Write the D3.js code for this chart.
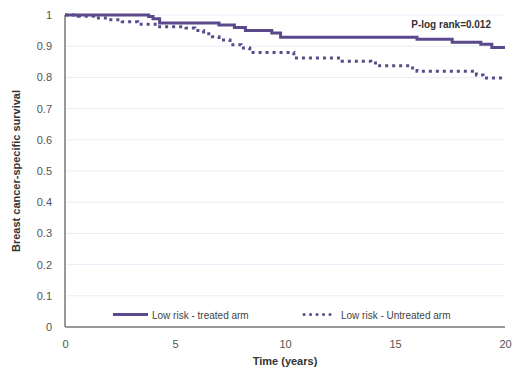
<!DOCTYPE html>
<html>
<head>
<meta charset="utf-8">
<script src="https://cdn.jsdelivr.net/npm/d3@7"></script>
<style>
  body { margin: 0; background: #fff; }
  svg text { font-family: Arial, "Liberation Sans", sans-serif; }
</style>
</head>
<body>
<div id="chart"></div>
<script>
'use strict';

// Kaplan-Meier steps
var treatedT = [0, 3.8, 4.0, 4.3, 7.0, 7.7, 8.2, 9.4, 9.8, 16.0, 17.6, 18.9, 19.4, 20];
var treatedS = [1, 0.995, 0.988, 0.974, 0.968, 0.96, 0.95, 0.942, 0.929, 0.922, 0.913, 0.906, 0.896, 0.896];

var untreatedT = [0, 0.6, 1.3, 2.0, 2.6, 3.3, 4.2, 5.5, 5.9, 6.3, 6.7, 7.0, 7.5, 8.0, 8.4, 10.4, 12.6, 13.9, 14.2, 15.8, 16.0, 18.7, 19.0, 20];
var untreatedS = [1, 0.996, 0.99, 0.985, 0.978, 0.97, 0.962, 0.958, 0.95, 0.94, 0.93, 0.92, 0.905, 0.894, 0.88, 0.862, 0.852, 0.846, 0.837, 0.83, 0.82, 0.808, 0.798, 0.798];

var xTicks = [0, 5, 10, 15, 20];
var yTicks = [0, 0.1, 0.2, 0.3, 0.4, 0.5, 0.6, 0.7, 0.8, 0.9, 1];
var seriesNames = ['Low risk - treated arm', 'Low risk - Untreated arm'];

var width = 515, height = 371;
var margin = { left: 65, right: 10, top: 15, bottom: 44 };
var purple = '#5a4a8c';

var svg = d3.select('#chart')
  .append('svg')
  .attr('width', width)
  .attr('height', height);

var x = d3.scaleLinear().domain([0, 20]).range([margin.left, width - margin.right]);
var y = d3.scaleLinear().domain([0, 1]).range([height - margin.bottom, margin.top]);

// grid
svg.selectAll('line.grid')
  .data(yTicks.slice(1))
  .enter()
  .append('line')
  .attr('class', 'grid')
  .attr('x1', x(0))
  .attr('x2', x(20))
  .attr('y1', function(d) { return y(d); })
  .attr('y2', function(d) { return y(d); })
  .attr('stroke', '#e8eef7')
  .attr('stroke-width', 1);

// axes
var yAxis = svg.append('g')
  .attr('transform', 'translate(' + (x(0) - 10) + ',0)')
  .call(d3.axisLeft(y).tickValues(yTicks).tickSize(0).tickFormat(function(d) { return d === 1 || d === 0 ? d : d3.format('.1f')(d); }));
yAxis.select('.domain').remove();
yAxis.selectAll('text').attr('font-size', '11px').attr('fill', '#555');

var xAxis = svg.append('g')
  .attr('transform', 'translate(0,' + (y(0) + 10) + ')')
  .call(d3.axisBottom(x).tickValues(xTicks).tickSize(0));
xAxis.select('.domain').remove();
xAxis.selectAll('text').attr('font-size', '11px').attr('fill', '#555');

svg.append('line')
  .attr('x1', x(0)).attr('x2', x(0))
  .attr('y1', y(1)).attr('y2', y(0))
  .attr('stroke', '#999').attr('stroke-width', 2);
svg.append('line')
  .attr('x1', x(0)).attr('x2', x(20))
  .attr('y1', y(0)).attr('y2', y(0))
  .attr('stroke', '#999').attr('stroke-width', 2);

// curves
var line = d3.line()
  .curve(d3.curveStepAfter)
  .x(function(d) { return x(d[0]); })
  .y(function(d) { return y(d[1]); });

svg.append('path')
  .datum(d3.zip(untreatedT, untreatedS))
  .attr('d', line)
  .attr('fill', 'none')
  .attr('stroke', purple)
  .attr('stroke-width', 3)
  .attr('stroke-dasharray', '3,4');

svg.append('path')
  .datum(d3.zip(treatedT, treatedS))
  .attr('d', line)
  .attr('fill', 'none')
  .attr('stroke', purple)
  .attr('stroke-width', 3);

// legend
var legY = y(0.04);
svg.append('line')
  .attr('x1', 113).attr('x2', 148)
  .attr('y1', legY).attr('y2', legY)
  .attr('stroke', purple).attr('stroke-width', 3);
svg.append('text')
  .attr('x', 152).attr('y', legY + 4)
  .attr('font-size', '10px').attr('fill', '#444')
  .text(seriesNames[0]);

svg.append('line')
  .attr('x1', 304).attr('x2', 336)
  .attr('y1', legY).attr('y2', legY)
  .attr('stroke', purple).attr('stroke-width', 3)
  .attr('stroke-linecap', 'round')
  .attr('stroke-dasharray', '0.1,6.4');
svg.append('text')
  .attr('x', 341).attr('y', legY + 4)
  .attr('font-size', '10px').attr('fill', '#444')
  .text(seriesNames[1]);

// annotation
svg.append('text')
  .attr('x', 491).attr('y', 28)
  .attr('text-anchor', 'end')
  .attr('font-size', '10px').attr('font-weight', 'bold').attr('fill', '#333')
  .text('P-log rank=0.012');

// titles
svg.append('text')
  .attr('x', x(10)).attr('y', 365)
  .attr('text-anchor', 'middle')
  .attr('font-size', '11px').attr('font-weight', 'bold').attr('fill', '#333')
  .text('Time (years)');

svg.append('text')
  .attr('transform', 'translate(20,' + y(0.5) + ') rotate(-90)')
  .attr('text-anchor', 'middle')
  .attr('font-size', '11px').attr('font-weight', 'bold').attr('fill', '#333')
  .text('Breast cancer-specific survival');
</script>
</body>
</html>
